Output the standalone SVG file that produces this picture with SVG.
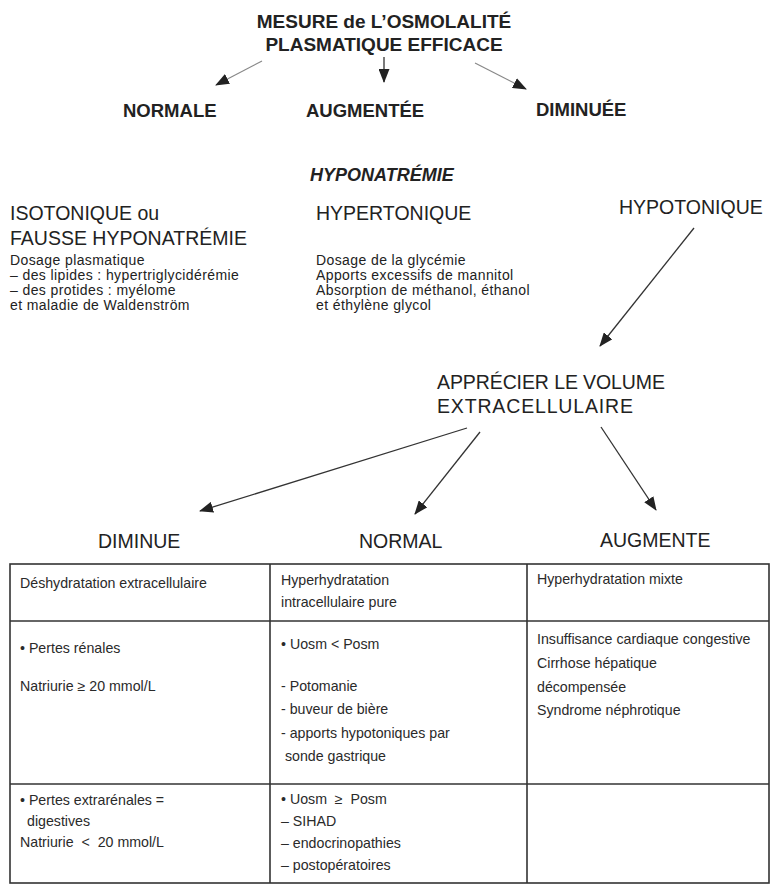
<svg xmlns="http://www.w3.org/2000/svg" width="772" height="886" viewBox="0 0 772 886">
  <style>
    text { font-family: "Liberation Sans", Arial, sans-serif; fill: #222; }
    .title { font-size: 19px; font-weight: bold; }
    .res { font-size: 18.5px; font-weight: bold; }
    .sub { font-size: 18px; font-weight: bold; font-style: italic; }
    .head { font-size: 19.5px; }
    .small { font-size: 14px; letter-spacing: 0.4px; }
    .cell { font-size: 14.2px; fill: #2a2a2a; }
    .conn { stroke: #333; stroke-width: 1.3; fill: none; }
    .connlight { stroke: #888; stroke-width: 1.2; fill: none; }
    .grid { stroke: #333; stroke-width: 1.6; fill: none; }
  </style>
  <defs>
    <marker id="tri" viewBox="0 0 14 11" refX="13" refY="5.5" markerWidth="14" markerHeight="11" markerUnits="userSpaceOnUse" orient="auto">
      <path d="M0,0 L14,5.5 L0,11 Z" fill="#222"/>
    </marker>
  </defs>
  <rect width="772" height="886" fill="#fff"/>

  <!-- root: measurement -->
  <g id="mesure">
    <text class="title" x="384" y="28" text-anchor="middle">MESURE de L’OSMOLALITÉ</text>
    <text class="title" x="384" y="51" text-anchor="middle">PLASMATIQUE EFFICACE</text>
  </g>
  <g id="normale"><text class="res" x="123" y="117">NORMALE</text></g>
  <g id="augmentee"><text class="res" x="306" y="117">AUGMENTÉE</text></g>
  <g id="diminuee"><text class="res" x="536" y="116">DIMINUÉE</text></g>

  <g id="hyponatremie"><text class="sub" x="310" y="181">HYPONATRÉMIE</text></g>

  <g id="isotonique">
    <text class="head" x="10" y="220">ISOTONIQUE ou</text>
    <text class="head" x="10" y="245">FAUSSE HYPONATRÉMIE</text>
    <text class="small" x="10" y="265">Dosage plasmatique</text>
    <text class="small" x="10" y="280">– des lipides : hypertriglycidérémie</text>
    <text class="small" x="10" y="295">– des protides : myélome</text>
    <text class="small" x="10" y="310">et maladie de Waldenström</text>
  </g>

  <g id="hypertonique">
    <text class="head" x="316" y="220">HYPERTONIQUE</text>
    <text class="small" x="316" y="265">Dosage de la glycémie</text>
    <text class="small" x="316" y="280">Apports excessifs de mannitol</text>
    <text class="small" x="316" y="295">Absorption de méthanol, éthanol</text>
    <text class="small" x="316" y="310">et éthylène glycol</text>
  </g>

  <g id="hypotonique">
    <text class="head" x="619" y="214">HYPOTONIQUE</text>
  </g>

  <g id="volume">
    <text class="head" x="437" y="389" textLength="228">APPRÉCIER LE VOLUME</text>
    <text class="head" x="437" y="413" textLength="196">EXTRACELLULAIRE</text>
  </g>

  <g id="diminue"><text class="head" x="98" y="548">DIMINUE</text></g>
  <g id="normal"><text class="head" x="359" y="548">NORMAL</text></g>
  <g id="augmente"><text class="head" x="600" y="547">AUGMENTE</text></g>

  <!-- connectors -->
  <g id="connectors">
    <line class="connlight" x1="262" y1="61" x2="216" y2="85" marker-end="url(#tri)"/>
    <line class="conn" x1="384" y1="57" x2="384" y2="82" marker-end="url(#tri)"/>
    <line class="connlight" x1="475" y1="63" x2="526" y2="89" marker-end="url(#tri)"/>
    <line class="conn" x1="694" y1="228" x2="600" y2="346" marker-end="url(#tri)"/>
    <line class="conn" x1="467" y1="428" x2="200" y2="511" marker-end="url(#tri)"/>
    <line class="conn" x1="480" y1="432" x2="415" y2="514" marker-end="url(#tri)"/>
    <line class="conn" x1="601" y1="427" x2="656" y2="510" marker-end="url(#tri)"/>
  </g>

  <!-- summary table -->
  <g id="table">
    <rect class="grid" x="10" y="564" width="759" height="319"/>
    <line class="grid" x1="10" y1="621" x2="769" y2="621"/>
    <line class="grid" x1="10" y1="784" x2="769" y2="784"/>
    <line class="grid" x1="270" y1="564" x2="270" y2="883"/>
    <line class="grid" x1="527" y1="564" x2="527" y2="883"/>
  </g>

  <g id="col-diminue">
    <text class="cell" x="20" y="588">Déshydratation extracellulaire</text>
    <text class="cell" x="20" y="653">• Pertes rénales</text>
    <text class="cell" x="20" y="691">Natriurie ≥ 20 mmol/L</text>
    <text class="cell" x="20" y="805">• Pertes extrarénales =</text>
    <text class="cell" x="27" y="826">digestives</text>
    <text class="cell" x="20" y="847" xml:space="preserve">Natriurie  &lt;  20 mmol/L</text>
  </g>

  <g id="col-normal">
    <text class="cell" x="281" y="585">Hyperhydratation</text>
    <text class="cell" x="281" y="607">intracellulaire pure</text>
    <text class="cell" x="281" y="649">• Uosm &lt; Posm</text>
    <text class="cell" x="281" y="691">- Potomanie</text>
    <text class="cell" x="281" y="714">- buveur de bière</text>
    <text class="cell" x="281" y="738">- apports hypotoniques par</text>
    <text class="cell" x="285" y="761">sonde gastrique</text>
    <text class="cell" x="281" y="804" xml:space="preserve">• Uosm  ≥  Posm</text>
    <text class="cell" x="281" y="826">– SIHAD</text>
    <text class="cell" x="281" y="848">– endocrinopathies</text>
    <text class="cell" x="281" y="870">– postopératoires</text>
  </g>

  <g id="col-augmente">
    <text class="cell" x="537" y="584">Hyperhydratation mixte</text>
    <text class="cell" x="537" y="644">Insuffisance cardiaque congestive</text>
    <text class="cell" x="537" y="668">Cirrhose hépatique</text>
    <text class="cell" x="537" y="692">décompensée</text>
    <text class="cell" x="537" y="715">Syndrome néphrotique</text>
  </g>
</svg>
